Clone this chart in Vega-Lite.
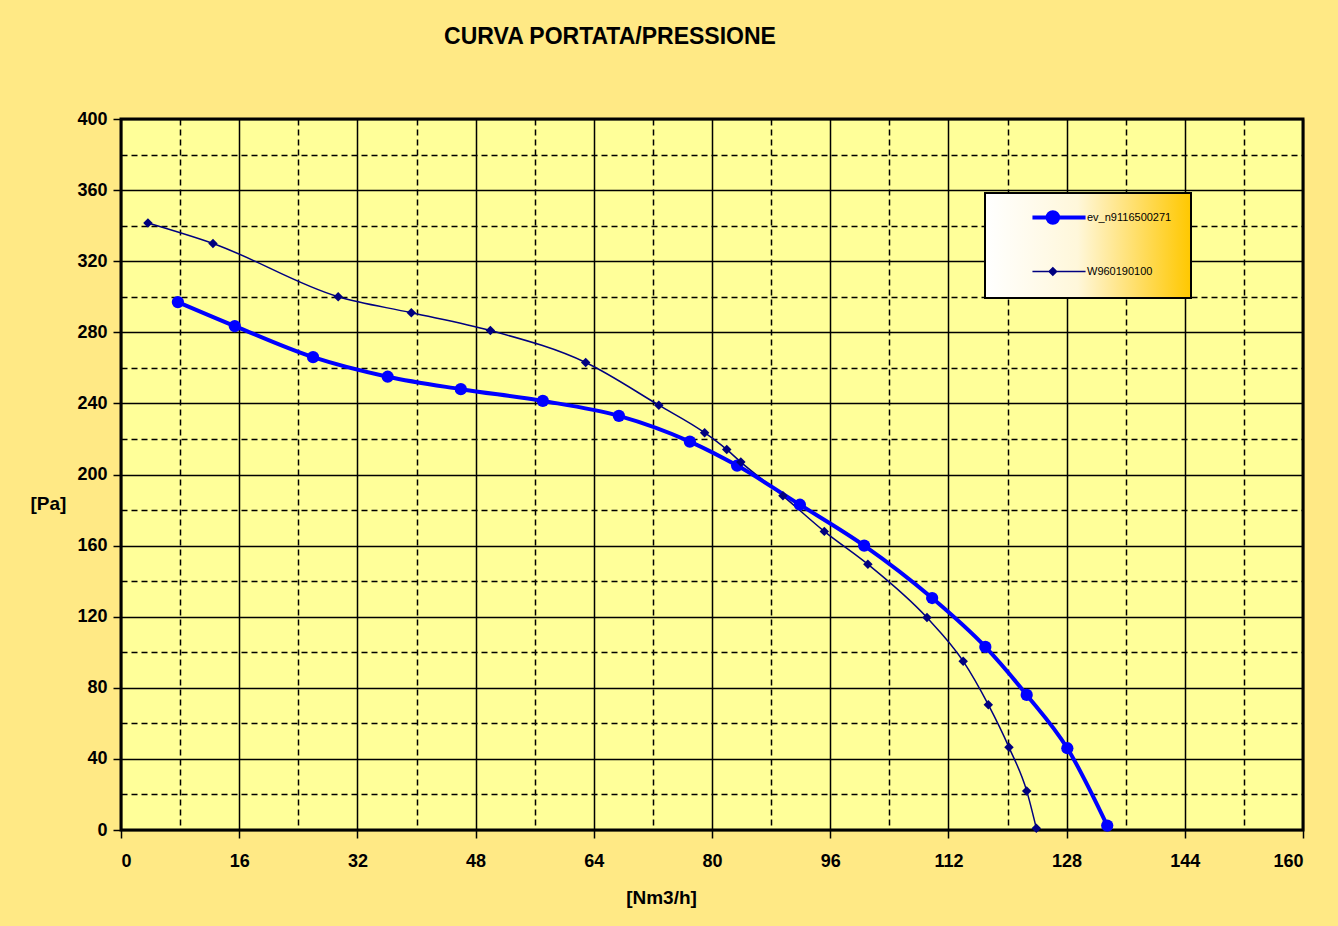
{
  "$schema": "https://vega.github.io/schema/vega-lite/v6.json",
  "width": 1182,
  "height": 711,
  "autosize": {"type": "none"},
  "padding": {"left": 121, "top": 119, "right": 35, "bottom": 96},
  "background": "#FFE985",
  "title": {
    "text": "CURVA PORTATA/PRESSIONE",
    "font": "Liberation Sans Narrow, Liberation Sans, Arial",
    "fontSize": 23,
    "fontWeight": "bold",
    "color": "#000000",
    "anchor": "middle",
    "frame": "group",
    "dx": -102,
    "baseline": "alphabetic",
    "offset": 43
  },
  "config": {
    "view": {"fill": "#FFFF99", "stroke": "#000000", "strokeWidth": 3},
    "axis": {
      "labelFont": "Liberation Sans Narrow, Liberation Sans, Arial",
      "labelFontSize": 18,
      "labelFontWeight": "bold",
      "labelColor": "#000000",
      "titleFont": "Liberation Sans Narrow, Liberation Sans, Arial",
      "titleFontSize": 19,
      "titleFontWeight": "bold",
      "titleColor": "#000000",
      "domain": false,
      "gridColor": "#000000",
      "gridOpacity": 1,
      "gridWidth": 1.5,
      "tickColor": "#000000",
      "tickWidth": 1.5,
      "tickSize": 8
    }
  },
  "data": {
    "values": [
      {"series": "ev_n9116500271", "q": 7.7, "p": 297},
      {"series": "ev_n9116500271", "q": 15.4, "p": 283.5},
      {"series": "ev_n9116500271", "q": 26.0, "p": 266},
      {"series": "ev_n9116500271", "q": 36.1, "p": 255},
      {"series": "ev_n9116500271", "q": 46.0, "p": 248},
      {"series": "ev_n9116500271", "q": 57.1, "p": 241.4},
      {"series": "ev_n9116500271", "q": 67.4, "p": 233},
      {"series": "ev_n9116500271", "q": 77.0, "p": 218.5},
      {"series": "ev_n9116500271", "q": 83.4, "p": 205},
      {"series": "ev_n9116500271", "q": 91.9, "p": 183},
      {"series": "ev_n9116500271", "q": 100.6, "p": 160},
      {"series": "ev_n9116500271", "q": 109.8, "p": 130.5},
      {"series": "ev_n9116500271", "q": 117.0, "p": 103},
      {"series": "ev_n9116500271", "q": 122.6, "p": 76},
      {"series": "ev_n9116500271", "q": 128.1, "p": 46},
      {"series": "ev_n9116500271", "q": 133.5, "p": 2.5},
      {"series": "W960190100", "q": 3.65, "p": 341.5},
      {"series": "W960190100", "q": 12.45, "p": 330},
      {"series": "W960190100", "q": 29.4, "p": 300},
      {"series": "W960190100", "q": 39.3, "p": 291},
      {"series": "W960190100", "q": 50.0, "p": 281},
      {"series": "W960190100", "q": 62.9, "p": 263},
      {"series": "W960190100", "q": 72.8, "p": 239},
      {"series": "W960190100", "q": 79.0, "p": 223.5},
      {"series": "W960190100", "q": 82.0, "p": 214},
      {"series": "W960190100", "q": 83.9, "p": 207},
      {"series": "W960190100", "q": 89.6, "p": 188},
      {"series": "W960190100", "q": 95.2, "p": 168},
      {"series": "W960190100", "q": 101.1, "p": 149.5},
      {"series": "W960190100", "q": 109.1, "p": 119.5},
      {"series": "W960190100", "q": 114.0, "p": 95},
      {"series": "W960190100", "q": 117.4, "p": 70.5},
      {"series": "W960190100", "q": 120.2, "p": 46.5},
      {"series": "W960190100", "q": 122.6, "p": 22},
      {"series": "W960190100", "q": 123.9, "p": 1}
    ]
  },
  "resolve": {"axis": {"x": "independent", "y": "independent"}},
  "layer": [
    {
      "transform": [{"filter": "datum.series === 'W960190100'"}],
      "mark": {"type": "line", "interpolate": "monotone", "strokeWidth": 1.5},
      "encoding": {
        "x": {
          "field": "q", "type": "quantitative",
          "scale": {"domain": [0, 160], "nice": false, "zero": true},
          "axis": {
            "orient": "bottom",
            "grid": true,
            "values": [8, 24, 40, 56, 72, 88, 104, 120, 136, 152],
            "labels": false, "ticks": false, "title": null,
            "gridDash": [6, 4]
          }
        },
        "y": {
          "field": "p", "type": "quantitative",
          "scale": {"domain": [0, 400], "nice": false},
          "axis": {
            "orient": "left",
            "grid": true,
            "values": [20, 60, 100, 140, 180, 220, 260, 300, 340, 380],
            "labels": false, "ticks": false, "title": null,
            "gridDash": [6, 4]
          }
        },
        "color": {
          "field": "series", "type": "nominal",
          "scale": {"domain": ["ev_n9116500271", "W960190100"], "range": ["#0000FF", "#000080"]},
          "legend": {
            "title": null,
            "orient": "none",
            "legendX": 864,
            "legendY": 74,
            "padding": 19,
            "symbolSize": 900,
            "rowPadding": 33,
            "labelOffset": 72,
            "labelFont": "Liberation Sans Narrow, Liberation Sans, Arial",
            "labelFontSize": 11,
            "labelColor": "#000000",
            "labelExpr": "datum.label + '\u00a0\u00a0\u00a0\u00a0\u00a0\u00a0\u00a0\u00a0'",
            "strokeColor": "#000000",
            "fillColor": "#FFF2B0",
            "encode": {
              "legend": {"update": {"fill": {"value": {"gradient": "linear", "x1": 0, "y1": 0, "x2": 1, "y2": 0, "stops": [{"offset": 0, "color": "#FFFFFF"}, {"offset": 0.45, "color": "#FFF7DA"}, {"offset": 1, "color": "#FFC800"}]}}, "strokeWidth": {"value": 2}}},
              "symbols": {"update": {
                "shape": {"signal": "datum.value === 'ev_n9116500271' ? 'M1.53,0H5.07M2.54,0a0.35,0.35 0 1,0 0.7,0a0.35,0.35 0 1,0 -0.7,0Z' : 'M1.53,0H5.07M2.89,-0.25L3.14,0L2.89,0.25L2.64,0Z'"},
                "strokeWidth": {"signal": "datum.value === 'ev_n9116500271' ? 4 : 1.5"},
                "stroke": {"signal": "datum.value === 'ev_n9116500271' ? '#0000FF' : '#000080'"},
                "fill": {"signal": "datum.value === 'ev_n9116500271' ? '#0000FF' : '#000080'"},
                "opacity": {"value": 1}
              }}
            }
          }
        }
      }
    },
    {
      "transform": [{"filter": "datum.series === 'ev_n9116500271'"}],
      "mark": {"type": "line", "interpolate": "monotone", "strokeWidth": 4},
      "encoding": {
        "x": {
          "field": "q", "type": "quantitative",
          "axis": {
            "orient": "bottom",
            "grid": true,
            "values": [0, 16, 32, 48, 64, 80, 96, 112, 128, 144, 160],
            "labelPadding": 14,
            "title": "[Nm3/h]",
            "titleX": 540, "titleY": 67, "titleAlign": "center", "titleBaseline": "middle"
          }
        },
        "y": {
          "field": "p", "type": "quantitative",
          "axis": {
            "orient": "left",
            "grid": true,
            "values": [0, 40, 80, 120, 160, 200, 240, 280, 320, 360, 400],
            "labelPadding": 6,
            "title": "[Pa]",
            "titleAngle": 0,
            "titleX": -73, "titleY": 384, "titleAlign": "center", "titleBaseline": "middle"
          }
        },
        "color": {"field": "series", "type": "nominal"}
      }
    },
    {
      "transform": [{"filter": "datum.series === 'ev_n9116500271'"}],
      "mark": {"type": "point", "shape": "circle", "filled": true, "size": 150, "color": "#0000FF", "opacity": 1},
      "encoding": {
        "x": {"field": "q", "type": "quantitative", "axis": null},
        "y": {"field": "p", "type": "quantitative", "axis": null}
      }
    },
    {
      "transform": [{"filter": "datum.series === 'W960190100'"}],
      "mark": {"type": "point", "shape": "diamond", "filled": true, "size": 90, "color": "#000080", "opacity": 1},
      "encoding": {
        "x": {"field": "q", "type": "quantitative", "axis": null},
        "y": {"field": "p", "type": "quantitative", "axis": null}
      }
    }
  ]
}
